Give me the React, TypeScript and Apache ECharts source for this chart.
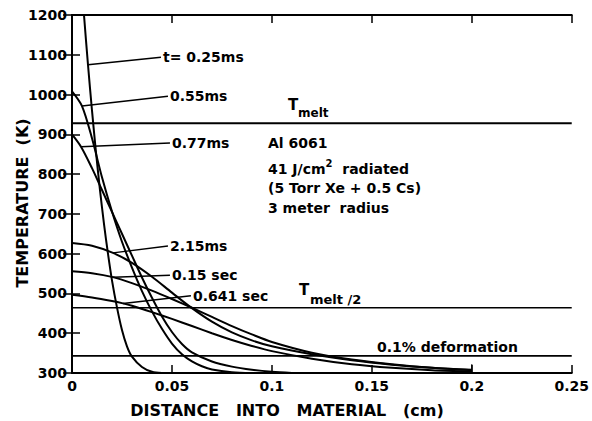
import React, { useEffect, useRef } from "react";
import * as echarts from "echarts";

// Axis ranges
const X_MIN = 0;
const X_MAX = 0.25;
const X_STEP = 0.05;
const Y_MIN = 300;
const Y_MAX = 1200;
const Y_STEP = 100;

// Reference levels (K)
const T_MELT = 928;
const T_MELT_HALF = T_MELT / 2;
const T_DEFORM = 343;
const X_THICKNESS = 0.2;

// Temperature profiles [distance (cm), temperature (K)]
const curve025ms = [[0.004, 1340], [0.006, 1200], [0.008, 1075], [0.01, 960], [0.012, 855], [0.014, 760], [0.016, 675], [0.018, 600], [0.02, 533], [0.0225, 465], [0.025, 408], [0.0275, 367], [0.03, 341], [0.035, 315], [0.04, 303], [0.045, 300]];
const curve055ms = [[0, 1008], [0.005, 971], [0.01, 890], [0.015, 792], [0.02, 706], [0.025, 630], [0.03, 565], [0.035, 506], [0.04, 455], [0.045, 411], [0.05, 374], [0.055, 347], [0.06, 329], [0.065, 317], [0.07, 309], [0.08, 302], [0.09, 300]];
const curve077ms = [[0, 900], [0.0045, 869], [0.01, 815], [0.015, 760], [0.02, 705], [0.025, 650], [0.03, 595], [0.035, 540], [0.04, 489], [0.045, 442], [0.05, 403], [0.055, 373], [0.06, 352], [0.07, 329], [0.08, 316], [0.09, 308], [0.1, 303], [0.11, 300]];
const curve215ms = [[0, 627], [0.01, 620], [0.0205, 602], [0.03, 577], [0.04, 542], [0.05, 502], [0.06, 463], [0.07, 429], [0.08, 402], [0.09, 382], [0.1, 367], [0.12, 347], [0.14, 332], [0.16, 321], [0.18, 313], [0.2, 308]];
const curve015s = [[0, 556], [0.01, 551], [0.0205, 541], [0.03, 526], [0.04, 507], [0.05, 486], [0.06, 464], [0.07, 441], [0.08, 418], [0.09, 397], [0.1, 378], [0.12, 351], [0.14, 334], [0.16, 322], [0.18, 313], [0.2, 307]];
const curve0641s = [[0, 497], [0.01, 490], [0.02, 481], [0.0255, 475], [0.03, 469], [0.04, 453], [0.05, 436], [0.06, 418], [0.07, 400], [0.08, 383], [0.09, 368], [0.1, 355], [0.12, 336], [0.14, 322], [0.16, 313], [0.18, 307], [0.2, 304]];

const curves = [curve025ms, curve055ms, curve077ms, curve215ms, curve015s, curve0641s];

// Curve labels with leader lines
const curveLabels = ["t= 0.25ms", "0.55ms", "0.77ms", "2.15ms", "0.15 sec", "0.641 sec"];
const leaderStart = [[0.008, 1075], [0.005, 971], [0.0045, 869], [0.0205, 602], [0.0205, 541], [0.0255, 475]];
const leaderEnd = [[0.0445, 1094], [0.048, 996], [0.049, 878], [0.048, 619], [0.049, 546], [0.0595, 494]];

const SANS = '"DejaVu Sans", "Liberation Sans", sans-serif';

export default function App() {
  const ref = useRef<HTMLDivElement>(null);

  useEffect(() => {
    if (!ref.current) return;
    const chart = echarts.init(ref.current, undefined, { renderer: "svg" });

    const lineSeries: any[] = curves.map((c, i) => ({
      type: "line",
      name: "profile" + i,
      data: c,
      showSymbol: false,
      symbol: "none",
      smooth: 0.3,
      clip: true,
      lineStyle: { color: "#000", width: 2 },
      z: 3,
    }));

    const leaderSeries: any[] = curveLabels.map((lab, i) => ({
      type: "line",
      name: lab,
      data: [leaderStart[i], leaderEnd[i]],
      showSymbol: false,
      symbol: "none",
      lineStyle: { color: "#000", width: 1.5 },
      endLabel: {
        show: true,
        formatter: lab,
        distance: 2,
        color: "#000",
        fontFamily: SANS,
        fontWeight: "bold",
        fontSize: 14,
      },
      z: 4,
    }));

    const hLine = (y: number, w: number) => ({
      type: "line",
      data: [[X_MIN, y], [X_MAX, y]],
      showSymbol: false,
      symbol: "none",
      lineStyle: { color: "#000", width: w },
      z: 2,
    });

    const endMarker = {
      type: "line",
      data: [[X_THICKNESS, Y_MIN], [X_THICKNESS, 322]],
      showSymbol: false,
      symbol: "none",
      lineStyle: { color: "#000", width: 1.2 },
      z: 2,
    };

    const axisLine = { show: true, lineStyle: { color: "#000", width: 2 } };
    const tickLabel = {
      margin: 6,
      color: "#000",
      fontFamily: SANS,
      fontWeight: "bold",
      fontSize: 14,
    };

    const option: any = {
      animation: false,
      backgroundColor: "#fff",
      grid: { left: 72, right: 19, top: 15, bottom: 48, containLabel: false },
      xAxis: [
        {
          type: "value",
          min: X_MIN,
          max: X_MAX,
          interval: X_STEP,
          position: "bottom",
          axisLine,
          axisTick: { show: true, inside: true, length: 8, lineStyle: { color: "#000", width: 1.5 } },
          axisLabel: {
            ...tickLabel,
            formatter: (v: number) => String(parseFloat(v.toFixed(2))),
          },
          splitLine: { show: false },
        },
        {
          type: "value",
          min: X_MIN,
          max: X_MAX,
          interval: X_STEP,
          position: "top",
          axisLine,
          axisTick: { show: true, inside: true, length: 8, lineStyle: { color: "#000", width: 1.5 } },
          axisLabel: { show: false },
          splitLine: { show: false },
        },
      ],
      yAxis: [
        {
          type: "value",
          min: Y_MIN,
          max: Y_MAX,
          interval: Y_STEP,
          position: "left",
          axisLine,
          axisTick: { show: true, inside: true, length: 8, lineStyle: { color: "#000", width: 1.5 } },
          axisLabel: {
            ...tickLabel,
            margin: 5,
            formatter: (v: number) => String(Math.round(v)),
          },
          splitLine: { show: false },
        },
        {
          type: "value",
          min: Y_MIN,
          max: Y_MAX,
          interval: Y_STEP,
          position: "right",
          axisLine,
          axisTick: { show: true, inside: true, length: 9, lineStyle: { color: "#000", width: 1.5 } },
          axisLabel: { show: false },
          splitLine: { show: false },
        },
      ],
      series: [
        ...lineSeries,
        ...leaderSeries,
        hLine(T_MELT, 2),
        hLine(T_MELT_HALF, 1.6),
        hLine(T_DEFORM, 1.6),
        endMarker,
      ],
      graphic: [
        {
          type: "text",
          x: 22,
          y: 203,
          rotation: Math.PI / 2,
          style: {
            text: "TEMPERATURE  (K)",
            fill: "#000",
            font: 'bold 16px "DejaVu Sans"',
            textAlign: "center",
            textVerticalAlign: "middle",
          },
        },
        {
          type: "text",
          x: 287,
          y: 410,
          style: {
            text: "DISTANCE   INTO   MATERIAL   (cm)",
            fill: "#000",
            font: 'bold 16px "DejaVu Sans"',
            textAlign: "center",
            textVerticalAlign: "middle",
          },
        },
        {
          type: "text",
          x: 288,
          y: 105,
          style: { text: "T", fill: "#000", font: 'bold 15px "DejaVu Sans"', textAlign: "left", textVerticalAlign: "middle" },
        },
        {
          type: "text",
          x: 298,
          y: 113,
          style: { text: "melt", fill: "#000", font: 'bold 12px "DejaVu Sans"', textAlign: "left", textVerticalAlign: "middle" },
        },
        {
          type: "text",
          x: 299,
          y: 290,
          style: { text: "T", fill: "#000", font: 'bold 15px "DejaVu Sans"', textAlign: "left", textVerticalAlign: "middle" },
        },
        {
          type: "text",
          x: 310,
          y: 299,
          style: { text: "melt /2", fill: "#000", font: 'bold 13px "DejaVu Sans"', textAlign: "left", textVerticalAlign: "middle" },
        },
        {
          type: "text",
          x: 377,
          y: 347,
          style: { text: "0.1% deformation", fill: "#000", font: 'bold 14px "DejaVu Sans"', textAlign: "left", textVerticalAlign: "middle" },
        },
        {
          type: "text",
          x: 268,
          y: 143,
          style: { text: "Al 6061", fill: "#000", font: 'bold 14px "DejaVu Sans"', textAlign: "left", textVerticalAlign: "middle" },
        },
        {
          type: "text",
          x: 268,
          y: 167,
          style: {
            text: "{n|41 J/cm}{s|2}{n|  radiated}",
            textAlign: "left",
            textVerticalAlign: "middle",
            rich: {
              n: { fill: "#000", fontFamily: SANS, fontWeight: "bold", fontSize: 14, lineHeight: 18, verticalAlign: "bottom" },
              s: { fill: "#000", fontFamily: SANS, fontWeight: "bold", fontSize: 10, lineHeight: 18, verticalAlign: "top" },
            },
          },
        },
        {
          type: "text",
          x: 268,
          y: 188,
          style: { text: "(5 Torr Xe + 0.5 Cs)", fill: "#000", font: 'bold 14px "DejaVu Sans"', textAlign: "left", textVerticalAlign: "middle" },
        },
        {
          type: "text",
          x: 268,
          y: 208,
          style: { text: "3 meter  radius", fill: "#000", font: 'bold 14px "DejaVu Sans"', textAlign: "left", textVerticalAlign: "middle" },
        },
      ],
    };

    chart.setOption(option);
    return () => chart.dispose();
  }, []);

  return (
    <div
      ref={ref}
      style={{ position: "fixed", left: 0, top: 0, width: 592, height: 421, background: "#fff" }}
    />
  );
}
